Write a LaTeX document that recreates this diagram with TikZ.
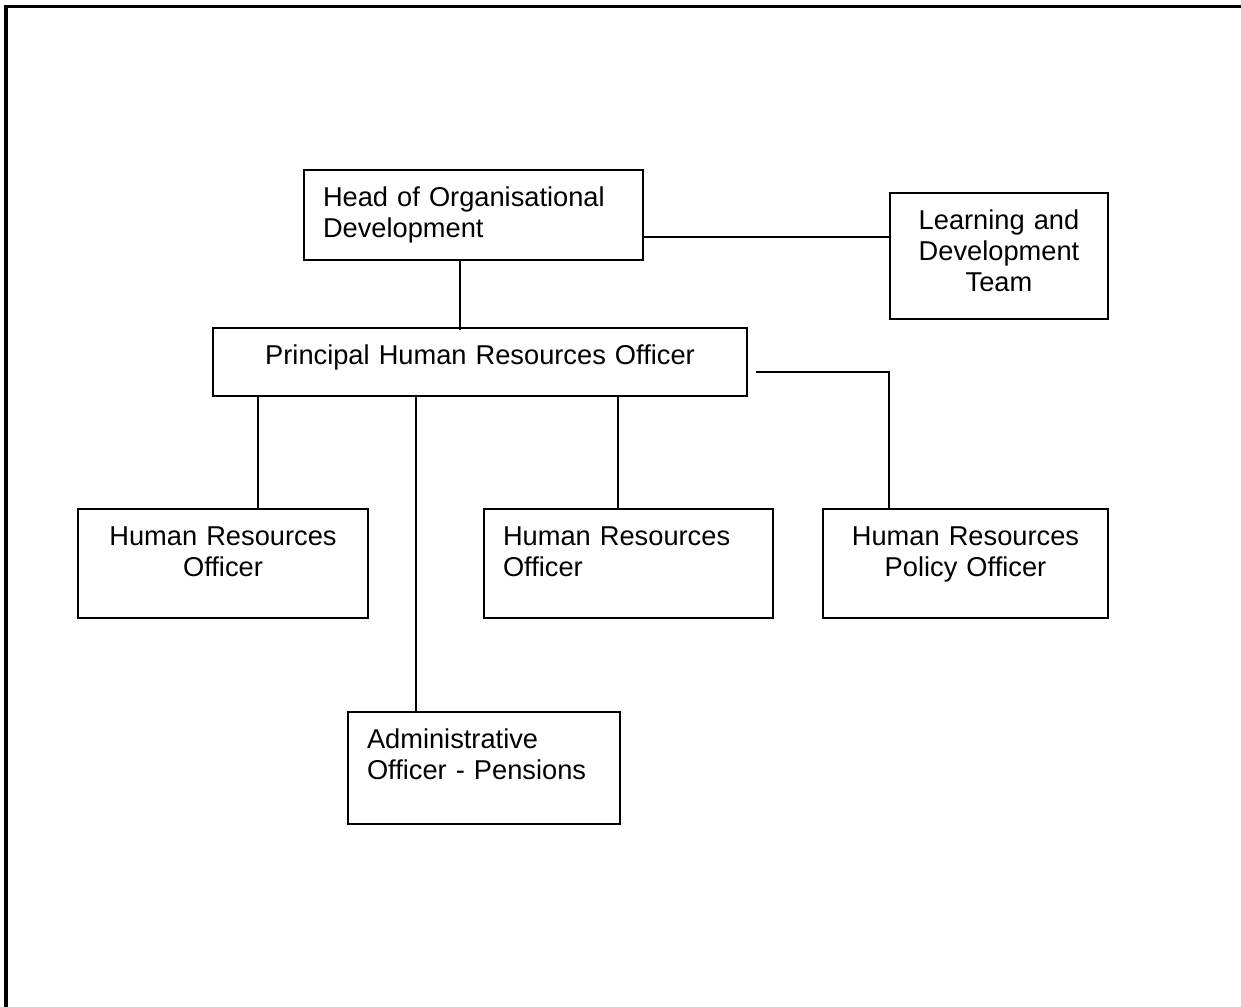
\documentclass[tikz,border=0pt]{standalone}
\usepackage{fontspec}
\setmainfont{Liberation Sans}
\usepackage{tikz}

\begin{document}
\begin{tikzpicture}[x=0.4pt, y=-0.4pt,
		box/.style={draw, line width=0.8pt, inner xsep=7.6pt, inner ysep=0pt, text height=14.4pt, font=\fontsize{10.9}{12.4}\selectfont},
		link/.style={line width=0.8pt}]
			\useasboundingbox (0,0) rectangle (1241,1007);
			% Frame
			\draw[line width=1.2pt] (6,1007) -- (6,6) -- (1241,6);
			% Boxes
			\node[box, anchor=north west, text width=120.4pt, text depth=21.6pt, align=left] (head) at (303,169) {Head of Organisational\\Development};
			\node[box, anchor=north west, text width=72pt, text depth=36pt, align=center] (ld) at (889,192) {Learning and\\Development\\Team};
			\node[box, anchor=north west, text width=198.4pt, text depth=12.8pt, align=center] (phro) at (212,327) {Principal Human Resources Officer};
			\node[box, anchor=north west, text width=100.8pt, text depth=29.2pt, align=center] (hro1) at (77,508) {Human Resources\\Officer};
			\node[box, anchor=north west, text width=100.4pt, text depth=29.2pt, align=left] (hro2) at (483,508) {Human Resources\\Officer};
			\node[box, anchor=north west, text width=98.8pt, text depth=29.2pt, align=center] (hrpo) at (822,508) {Human Resources\\Policy Officer};
			\node[box, anchor=north west, text width=93.6pt, text depth=30.4pt, align=left] (admin) at (347,711) {Administrative\\Officer - Pensions};
			% Lines
			\draw[link] (head.east |- 0,237) -- (ld.west |- 0,237);
			\draw[link] (head.south -| 460,0) -- ([yshift=-1.2pt]phro.north -| 460,0);
			\draw[link] (phro.south -| 258,0) -- (hro1.north -| 258,0);
			\draw[link] (phro.south -| 416,0) -- (admin.north -| 416,0);
			\draw[link] (phro.south -| 618,0) -- (hro2.north -| 618,0);
			\draw[link] (phro.east |- 0,372) ++(8,0) -| (hrpo.north -| 889,0);
		\end{tikzpicture}
\end{document}
